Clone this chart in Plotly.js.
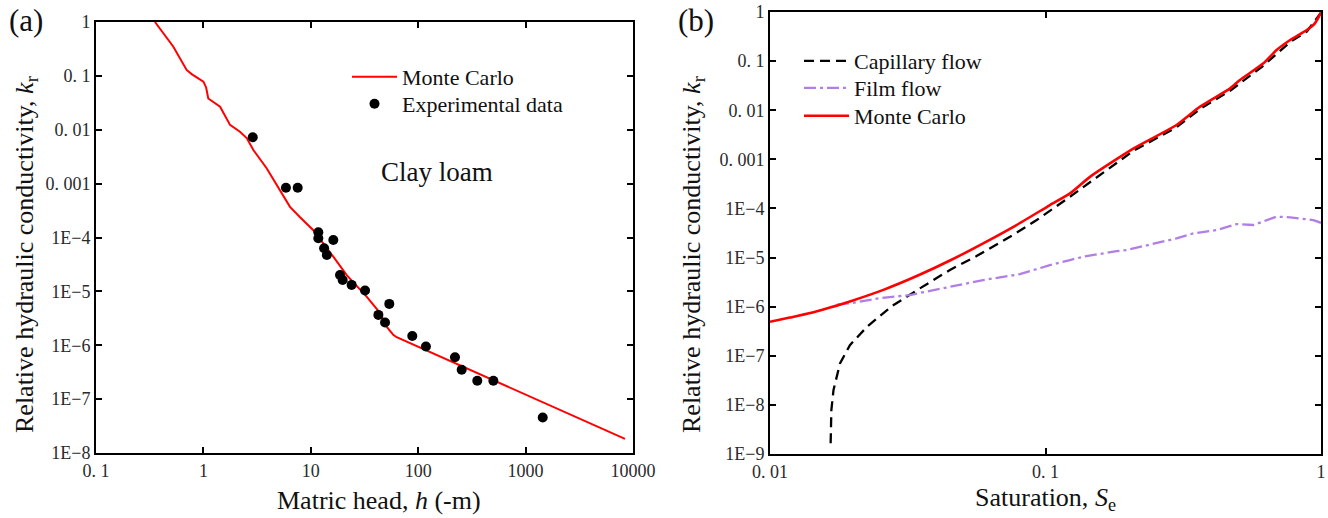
<!DOCTYPE html>
<html>
<head>
<meta charset="utf-8">
<script src="https://cdn.plot.ly/plotly-3.0.1.min.js"></script>
<style>html,body{margin:0;padding:0;background:#fff;}#chart{width:1328px;height:518px;}</style>
</head>
<body>
<div id="chart"></div>
<script>
// ---------- Panel (a): Clay loam ----------
const mcA_h  = [0.354, 0.525, 0.698, 0.778, 1.0, 1.06, 1.11, 1.43, 1.77, 2.19, 2.53, 2.92, 3.88, 5.16, 6.4, 7.9, 10.5, 16.2, 21.6, 33.1, 44, 50.8, 58.6, 63, 8430];
const mcA_kr = [1, 0.348, 0.129, 0.108, 0.078, 0.061, 0.038, 0.0268, 0.0123, 0.0092, 0.0070, 0.0042, 0.00193, 7.6e-4, 3.7e-4, 2.4e-4, 1.38e-4, 4.4e-5, 2.0e-5, 8.0e-6, 4.0e-6, 2.22e-6, 1.56e-6, 1.41e-6, 1.83e-8];

const expA_h  = [2.88, 5.87, 7.55, 11.75, 11.75, 16.2, 13.3, 14.1, 18.7, 19.8, 24.0, 32.0, 42.6, 49.1, 53.8, 88.1, 118, 220, 254, 355, 501, 1443];
const expA_kr = [0.00726, 8.4e-4, 8.4e-4, 1.25e-4, 9.7e-5, 9.0e-5, 6.3e-5, 4.75e-5, 2.02e-5, 1.63e-5, 1.32e-5, 1.04e-5, 3.66e-6, 2.64e-6, 5.86e-6, 1.49e-6, 9.5e-7, 6.0e-7, 3.5e-7, 2.19e-7, 2.19e-7, 4.56e-8];

// ---------- Panel (b): components ----------
const capB_S = [0.0166, 0.0167, 0.0170, 0.01795, 0.0195, 0.0225, 0.0266, 0.0281, 0.035, 0.045, 0.0562, 0.0743, 0.0929, 0.1227, 0.209, 0.299, 0.364, 0.468, 0.618, 0.773, 0.888, 1.0];
const capB_k = [1.66e-9, 7.8e-9, 2.0e-8, 7e-8, 1.65e-7, 3.9e-7, 8.5e-7, 1.08e-6, 2.36e-6, 5.6e-6, 1.07e-5, 2.65e-5, 5.8e-5, 1.73e-4, 1.5e-3, 4.5e-3, 0.0106, 0.025, 0.081, 0.245, 0.40, 0.97];

const filmB_S = [0.0175, 0.0195, 0.0251, 0.0322, 0.0381, 0.0594, 0.0807, 0.0904, 0.1037, 0.1227, 0.137, 0.181, 0.197, 0.299, 0.344, 0.418, 0.494, 0.568, 0.690, 0.773, 0.938, 1.0];
const filmB_k = [1.1e-6, 1.17e-6, 1.5e-6, 1.72e-6, 2.1e-6, 3.48e-6, 4.6e-6, 5.6e-6, 7.0e-6, 8.9e-6, 1.04e-5, 1.35e-5, 1.42e-5, 2.46e-5, 3.1e-5, 3.63e-5, 4.8e-5, 4.6e-5, 6.8e-5, 6.6e-5, 5.8e-5, 5.1e-5];

const mcB_S = [0.01, 0.0118, 0.0140, 0.0165, 0.0195, 0.0258, 0.0341, 0.0450, 0.0594, 0.0785, 0.1038, 0.1227, 0.145, 0.209, 0.299, 0.364, 0.468, 0.508, 0.618, 0.690, 0.773, 0.888, 0.95, 1.0];
const mcB_k = [4.93e-7, 6.0e-7, 7.4e-7, 9.6e-7, 1.28e-6, 2.2e-6, 4.2e-6, 8.7e-6, 1.95e-5, 4.6e-5, 1.17e-4, 2.03e-4, 4.4e-4, 1.67e-3, 5.0e-3, 0.0118, 0.0279, 0.0412, 0.090, 0.168, 0.269, 0.43, 0.589, 0.97];

// ---------- Tick labels ----------
const xTickValsA = [0.1, 1, 10, 100, 1000, 10000];
const xTickTextA = ["0. 1", "1", "10", "100", "1000", "10000"];
const yTickValsA = [1e-8, 1e-7, 1e-6, 1e-5, 1e-4, 1e-3, 1e-2, 1e-1, 1];
const yTickTextA = ["1E\u22128", "1E\u22127", "1E\u22126", "1E\u22125", "1E\u22124", "0. 001", "0. 01", "0. 1", "1"];
const xTickValsB = [0.01, 0.1, 1];
const xTickTextB = ["0. 01", "0. 1", "1"];
const yTickValsB = [1e-9, 1e-8, 1e-7, 1e-6, 1e-5, 1e-4, 1e-3, 1e-2, 1e-1, 1];
const yTickTextB = ["1E\u22129", "1E\u22128", "1E\u22127", "1E\u22126", "1E\u22125", "1E\u22124", "0. 001", "0. 01", "0. 1", "1"];
const minorDigits = [2, 4, 6, 8];

function minorVals(expLo, expHi) {
  const v = [];
  for (let e = expLo; e < expHi; e++) for (const d of minorDigits) v.push(d * Math.pow(10, e));
  return v;
}

const W = 1328, H = 518;
const FONT = '"Liberation Serif", "Times New Roman", serif';

function axisStyle(extra) {
  return Object.assign({
    type: 'log', showgrid: false, zeroline: false,
    showline: true, linecolor: 'black', linewidth: 2, mirror: 'ticks',
    ticks: 'inside', ticklen: 6, tickwidth: 2, tickcolor: 'black',
    tickmode: 'array', tickfont: {family: FONT, size: 18, color: '#2a2a2a'},
    automargin: false
  }, extra);
}
function minorAxis(extra) {
  return Object.assign({
    type: 'log', showgrid: false, zeroline: false,
    showline: true, linecolor: 'black', linewidth: 2, mirror: 'ticks',
    ticks: 'inside', ticklen: 3.5, tickwidth: 1.6, tickcolor: 'black',
    tickmode: 'array', showticklabels: false, automargin: false
  }, extra);
}

const traces = [
  {x: mcA_h, y: mcA_kr, mode: 'lines', name: 'Monte Carlo', line: {color: '#ff0000', width: 2}, xaxis: 'x', yaxis: 'y', legend: 'legend'},
  {x: expA_h, y: expA_kr, mode: 'markers', name: 'Experimental data', marker: {color: 'black', size: 10}, xaxis: 'x', yaxis: 'y', legend: 'legend2'},
  {x: capB_S, y: capB_k, mode: 'lines', name: 'Capillary flow', line: {color: 'black', width: 2.3, dash: '10px,6px'}, xaxis: 'x2', yaxis: 'y2', legend: 'legend3'},
  {x: filmB_S, y: filmB_k, mode: 'lines', name: 'Film flow', line: {color: '#b07fe6', width: 2.3, dash: '12px,4px,3px,4px'}, xaxis: 'x2', yaxis: 'y2', legend: 'legend4'},
  {x: mcB_S, y: mcB_k, mode: 'lines', name: 'Monte Carlo', line: {color: '#ff0000', width: 2.6, shape: 'spline', smoothing: 0.6}, xaxis: 'x2', yaxis: 'y2', legend: 'legend5'}
];

function leg(xpx, ypx, size) {
  return {x: xpx / W, y: 1 - ypx / H, xanchor: 'left', yanchor: 'middle', bgcolor: 'rgba(0,0,0,0)', borderwidth: 0,
    font: {family: FONT, size: size, color: '#111'}, itemwidth: 45};
}
function ann(text, xpx, ypx, size, opts) {
  return Object.assign({text: text, x: xpx / W, y: 1 - ypx / H, xref: 'paper', yref: 'paper',
    xanchor: 'center', yanchor: 'middle', showarrow: false, font: {family: FONT, size: size, color: '#111'}}, opts || {});
}

const layout = {
  width: W, height: H,
  margin: {l: 0, r: 0, t: 0, b: 0},
  paper_bgcolor: 'white', plot_bgcolor: 'white',
  font: {family: FONT, color: '#111'},
  showlegend: true,
  xaxis: axisStyle({domain: [96 / W, 633 / W], range: [-1, 4], anchor: 'y', tickvals: xTickValsA, ticktext: xTickTextA}),
  yaxis: axisStyle({domain: [1 - 453 / H, 1 - 22 / H], range: [-8, 0], anchor: 'x', tickvals: yTickValsA, ticktext: yTickTextA}),
  xaxis2: axisStyle({domain: [770 / W, 1321 / W], range: [-2, 0], anchor: 'y2', tickvals: xTickValsB, ticktext: xTickTextB}),
  yaxis2: axisStyle({domain: [1 - 454 / H, 1 - 12 / H], range: [-9, 0], anchor: 'x2', tickvals: yTickValsB, ticktext: yTickTextB}),
  xaxis3: minorAxis({overlaying: 'x', anchor: 'y', range: [-1, 4], tickvals: minorVals(-1, 4)}),
  yaxis3: minorAxis({overlaying: 'y', anchor: 'x', range: [-8, 0], tickvals: minorVals(-8, 0)}),
  xaxis4: minorAxis({overlaying: 'x2', anchor: 'y2', range: [-2, 0], tickvals: minorVals(-2, 0)}),
  yaxis4: minorAxis({overlaying: 'y2', anchor: 'x2', range: [-9, 0], tickvals: minorVals(-9, 0)}),
  legend: leg(347, 77, 22),
  legend2: leg(347, 104, 22),
  legend3: leg(799, 61, 22),
  legend4: leg(799, 88, 22),
  legend5: leg(799, 116, 22),
  annotations: [
    ann('(a)', 26, 20, 31),
    ann('(b)', 696, 20, 31),
    ann('Clay loam', 437, 172, 27),
    ann('Matric head, <i>h</i> (-m)', 379, 500, 26),
    ann('Saturation, <i>S</i><sub>e</sub>', 1045, 499, 26),
    ann('Relative hydraulic conductivity, <i>k</i><sub>r</sub>', 26, 255, 26, {textangle: -90}),
    ann('Relative hydraulic conductivity, <i>k</i><sub>r</sub>', 693, 255, 26, {textangle: -90})
  ]
};

Plotly.newPlot('chart', traces, layout, {displayModeBar: false, staticPlot: true});
</script>
</body>
</html>
